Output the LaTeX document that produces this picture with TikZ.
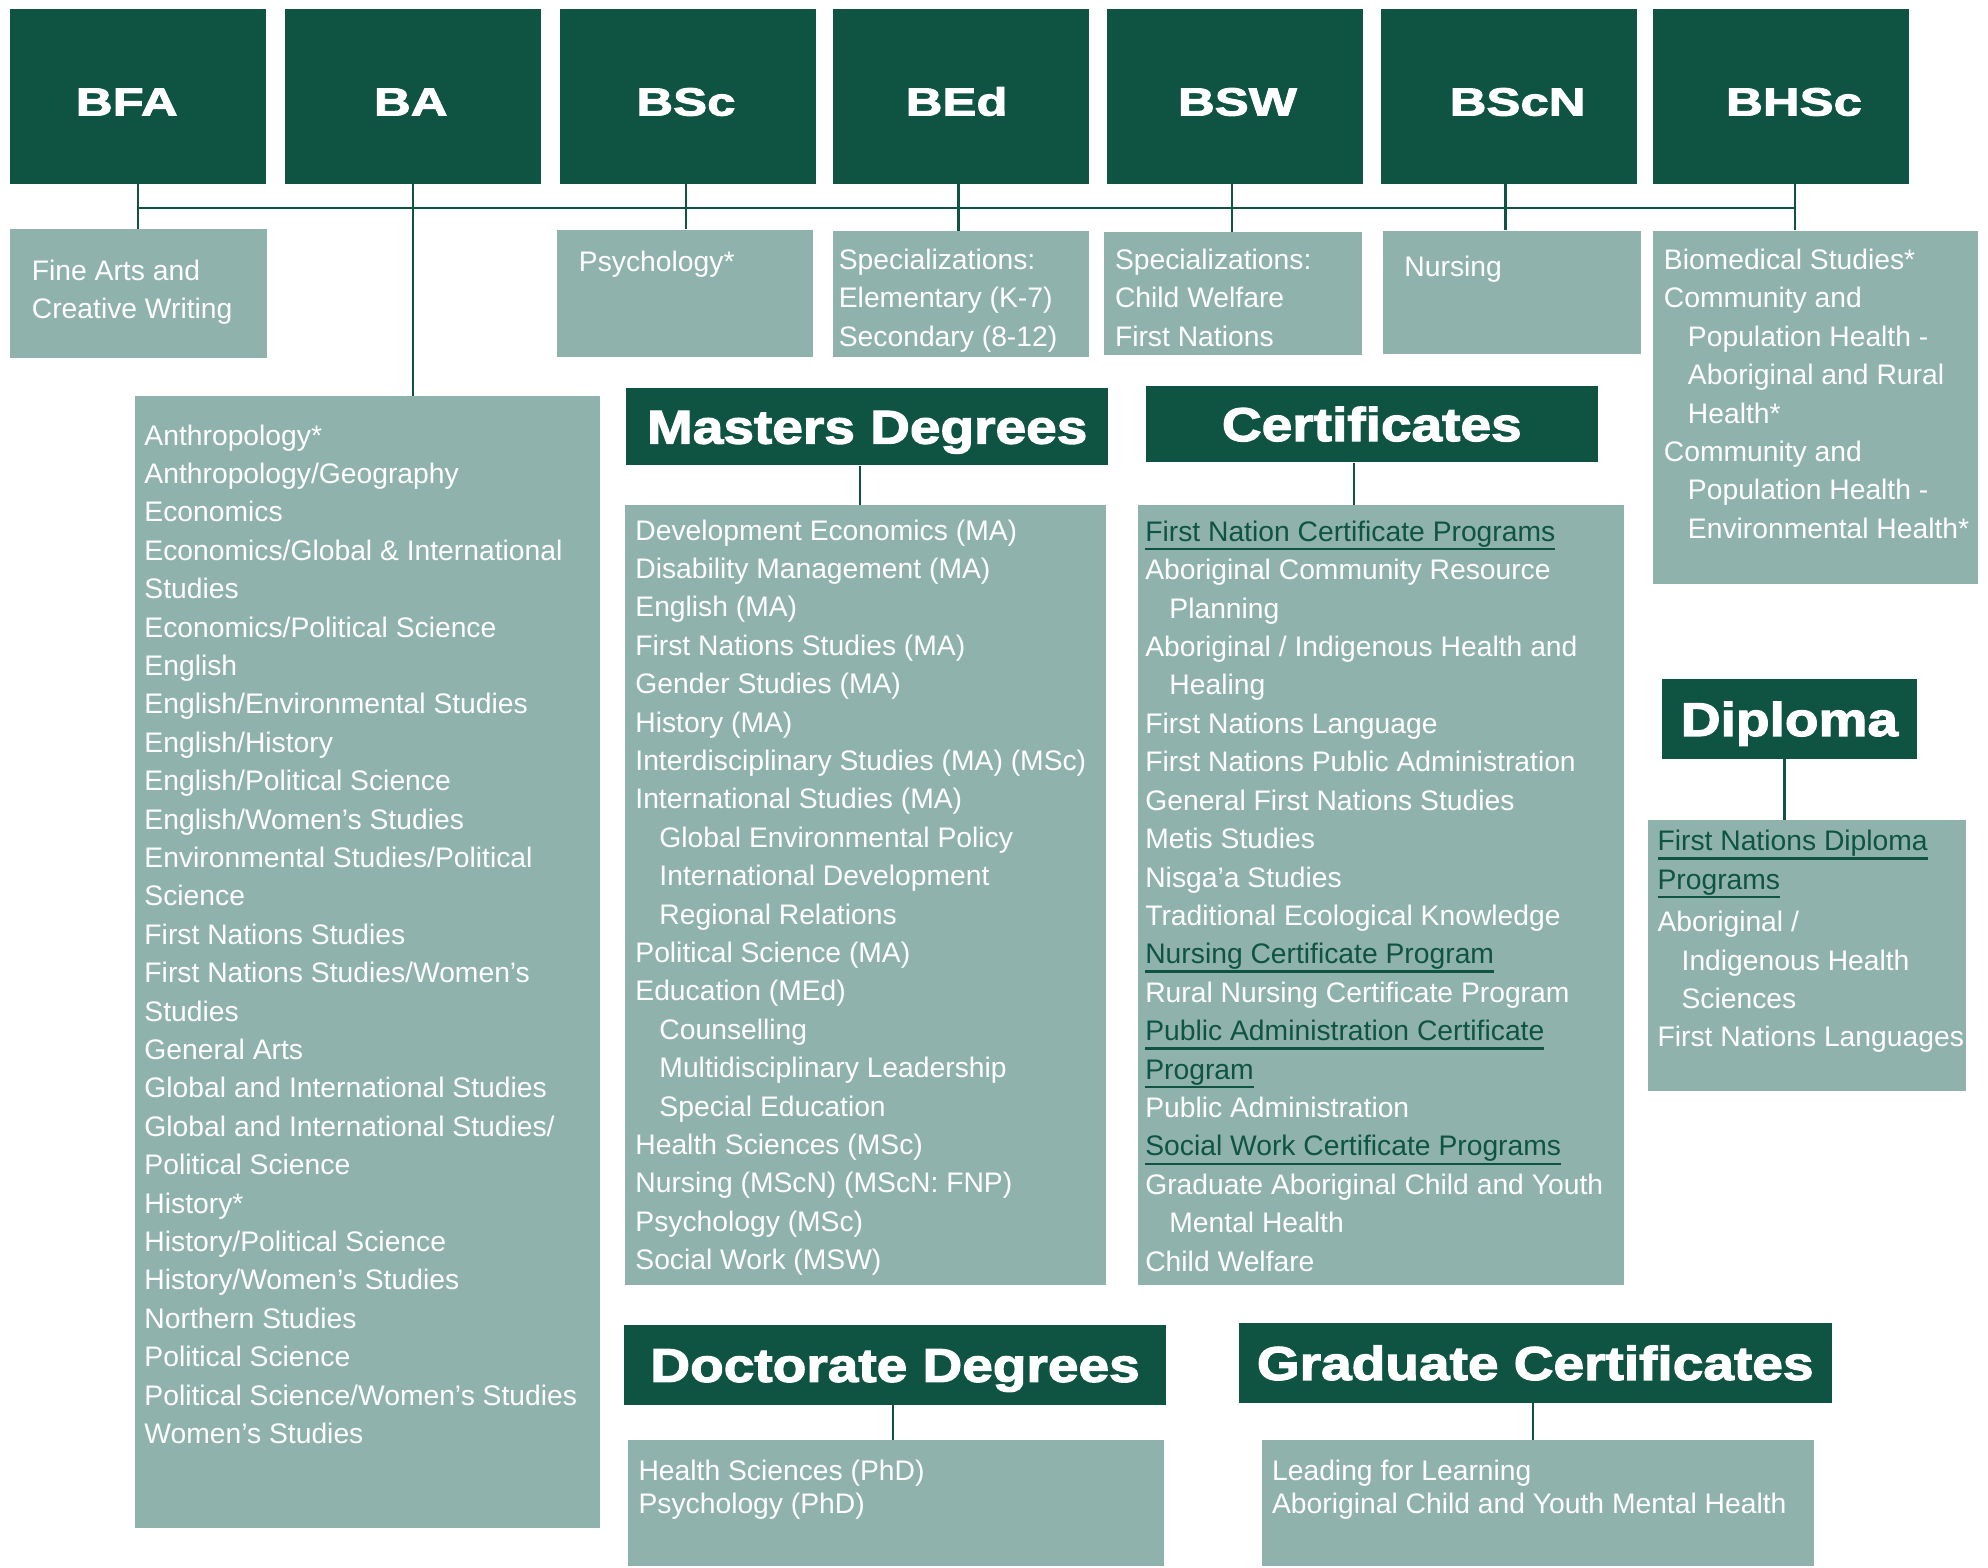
\documentclass[tikz,border=0pt]{standalone}
\usepackage{fontspec}
\setmainfont{Liberation Sans}
\newfontfamily\topfont[FakeStretch=1.3,FakeBold=2.5]{Liberation Sans Bold}
\newfontfamily\headfont[FakeStretch=1.16,FakeBold=2.5]{Liberation Sans Bold}
\definecolor{uncgreen}{RGB}{15,84,67}
\definecolor{uncgrey}{RGB}{143,179,172}
\newcommand{\ind}{\hspace*{0.38cm}}
\newcommand{\lnk}[1]{\leavevmode{\color{uncgreen}\setbox0\hbox{#1}\rlap{\rule[-4pt]{\wd0}{1pt}}\box0}}
\newcommand{\plist}[1]{\parbox[t]{12cm}{\raggedright #1}}

\begin{document}
\begin{tikzpicture}[x=0.02cm,y=-0.02cm,
  degree/.style={fill=uncgreen,text=white,inner sep=0pt,font=\topfont\fontsize{17.6}{20}\selectfont,
    minimum width=4.04cm,minimum height=2.76cm,text height=17.2pt,text depth=0pt},
  head/.style={fill=uncgreen,text=white,inner sep=0pt,font=\headfont\fontsize{21.3}{24}\selectfont,
    text height=15.25pt,text depth=0pt},
  box/.style={fill=uncgrey,inner sep=0pt},
  txt/.style={anchor=base west,inner sep=0pt,text=white,font=\fontsize{12.69}{17.24}\selectfont},
  link/.style={draw=uncgreen,line width=0.035cm}]
\useasboundingbox (0,0) rectangle (1568,1236);

% degrees across the top
\foreach \nm/\lbl/\cx/\tx/\dx in {bfa/BFA/109/-0.18/0,ba/BA/326/-0.04/0,bsc/BSc/543/-0.04/-0.04,
    bed/BEd/758/-0.07/-0.04,bsw/BSW/974/0.04/-0.04,bscn/BScN/1190/0.14/-0.05,bhsc/BHSc/1405/0.2/0.22}{
  \node[degree] (\nm) at (\cx,76) {\kern\tx cm\lbl\kern-\tx cm};
  \coordinate (\nm-drop) at ([xshift=\dx cm]\nm.south);
}

% programs under each degree
\node[box,minimum width=4.05cm,minimum height=2.02cm] (bfasub) at (109.25,231.5) {};
\node[box,minimum width=4.03cm,minimum height=2.01cm] (bscsub) at (540.2,231.4) {};
\node[box,minimum width=4.04cm,minimum height=1.99cm] (bedsub) at (757.9,232.2) {};
\node[box,minimum width=4.07cm,minimum height=1.94cm] (bswsub) at (972.7,231.5) {};
\node[box,minimum width=4.06cm,minimum height=1.94cm] (bscnsub) at (1192.5,230.5) {};
\node[box,minimum width=5.13cm,minimum height=5.57cm] (bhscsub) at (1431.8,321.3) {};
\node[box,minimum width=7.34cm,minimum height=17.85cm] (balist) at (289.75,758.65) {};

\node[txt] (bfatxt) at (24.8,221) {\plist{Fine Arts and\\Creative Writing}};
\node[txt] (bsctxt) at (456.3,214) {\plist{Psychology*}};
\node[txt] (bedtxt) at (661.3,212.5) {\plist{Specializations:\\Elementary (K-7)\\Secondary (8-12)}};
\node[txt] (bswtxt) at (879.1,212.5) {\plist{Specializations:\\Child Welfare\\First Nations}};
\node[txt] (bscntxt) at (1107.4,218) {\plist{Nursing}};
\node[txt] (bhsctxt) at (1312,212.5) {\plist{Biomedical Studies*\\Community and\\\ind Population Health -\\
  \ind Aboriginal and Rural\\\ind Health*\\Community and\\\ind Population Health -\\\ind Environmental Health*}};
\node[txt] (batxt) at (113.6,351) {\plist{Anthropology*\\Anthropology/Geography\\Economics\\
  Economics/Global \& International\\Studies\\Economics/Political Science\\English\\
  English/Environmental Studies\\English/History\\English/Political Science\\English/Women’s Studies\\
  Environmental Studies/Political\\Science\\First Nations Studies\\First Nations Studies/Women’s\\Studies\\
  General Arts\\Global and International Studies\\Global and International Studies/\\Political Science\\
  History*\\History/Political Science\\History/Women’s Studies\\Northern Studies\\Political Science\\
  Political Science/Women’s Studies\\Women’s Studies}};

\foreach \nm/\sub in {bfa/bfasub,ba/balist,bsc/bscsub,bed/bedsub,bsw/bswsub,bscn/bscnsub,bhsc/bhscsub}
  \draw[link] (\nm-drop) -- (\nm-drop |- \sub.north);
\coordinate (bus) at (0,164);
\draw[link] (bfa-drop |- bus) -- (bhsc-drop |- bus);

% masters
\node[head,minimum width=7.6cm,minimum height=1.22cm] (masthd) at (684,336.5) {Masters Degrees};
\node[box,minimum width=7.59cm,minimum height=12.31cm] (mastlist) at (682.6,706) {};
\node[txt] (masttxt) at (500.8,426) {\plist{Development Economics (MA)\\Disability Management (MA)\\
  English (MA)\\First Nations Studies (MA)\\Gender Studies (MA)\\History (MA)\\
  Interdisciplinary Studies (MA) (MSc)\\International Studies (MA)\\\ind Global Environmental Policy\\
  \ind International Development\\\ind Regional Relations\\Political Science (MA)\\Education (MEd)\\
  \ind Counselling\\\ind Multidisciplinary Leadership\\\ind Special Education\\Health Sciences (MSc)\\
  Nursing (MScN) (MScN: FNP)\\Psychology (MSc)\\Social Work (MSW)}};
\coordinate (mast-drop) at ([xshift=-0.12cm]masthd.south);
\draw[link] (mast-drop) -- (mast-drop |- mastlist.north);

% certificates
\node[head,minimum width=7.13cm,minimum height=1.2cm] (certhd) at (1082,334.5) {Certificates};
\node[box,minimum width=7.66cm,minimum height=12.31cm] (certlist) at (1089.4,706.2) {};
\node[txt] (certtxt) at (903,427) {\plist{\lnk{First Nation Certificate Programs}\\
  Aboriginal Community Resource\\\ind Planning\\Aboriginal / Indigenous Health and\\\ind Healing\\
  First Nations Language\\First Nations Public Administration\\General First Nations Studies\\
  Metis Studies\\Nisga'a Studies\\Traditional Ecological Knowledge\\\lnk{Nursing Certificate Program}\\
  Rural Nursing Certificate Program\\\lnk{Public Administration Certificate}\\\lnk{Program}\\
  Public Administration\\\lnk{Social Work Certificate Programs}\\Graduate Aboriginal Child and Youth\\
  \ind Mental Health\\Child Welfare}};
\coordinate (cert-drop) at ([xshift=-0.28cm]certhd.south);
\draw[link] (cert-drop) -- (cert-drop |- certlist.north);

% diploma
\node[head,minimum width=4.02cm,minimum height=1.26cm] (diplhd) at (1411.4,567.1) {Diploma};
\node[box,minimum width=5.02cm,minimum height=4.27cm] (dipllist) at (1425.3,753.7) {};
\node[txt] (dipltxt) at (1307,671) {\plist{\lnk{First Nations Diploma}\\\lnk{Programs}\\[1.9pt]
  Aboriginal /\\\ind Indigenous Health\\\ind Sciences\\First Nations Languages}};
\coordinate (dipl-drop) at ([xshift=-0.08cm]diplhd.south);
\draw[link] (dipl-drop) -- (dipl-drop |- dipllist.north);

% doctorate
\node[head,minimum width=8.55cm,minimum height=1.26cm] (docthd) at (706,1076.5) {Doctorate Degrees};
\node[box,minimum width=8.46cm,minimum height=1.99cm] (doctlist) at (707,1185.75) {};
\node[txt,font=\fontsize{12.69}{14.57}\selectfont] (docttxt) at (503.3,1168)
  {\plist{Health Sciences (PhD)\\Psychology (PhD)}};
\coordinate (doct-drop) at ([xshift=-0.03cm]docthd.south);
\draw[link] (doct-drop) -- (doct-drop |- doctlist.north);

% graduate certificates
\node[head,minimum width=9.36cm,minimum height=1.26cm] (gradhd) at (1210.9,1075) {Graduate Certificates};
\node[box,minimum width=8.71cm,minimum height=1.98cm] (gradlist) at (1212.9,1185.5) {};
\node[txt,font=\fontsize{12.69}{14.57}\selectfont] (gradtxt) at (1003,1168)
  {\plist{Leading for Learning\\Aboriginal Child and Youth Mental Health}};
\coordinate (grad-drop) at ([xshift=-0.04cm]gradhd.south);
\draw[link] (grad-drop) -- (grad-drop |- gradlist.north);
\end{tikzpicture}
\end{document}
